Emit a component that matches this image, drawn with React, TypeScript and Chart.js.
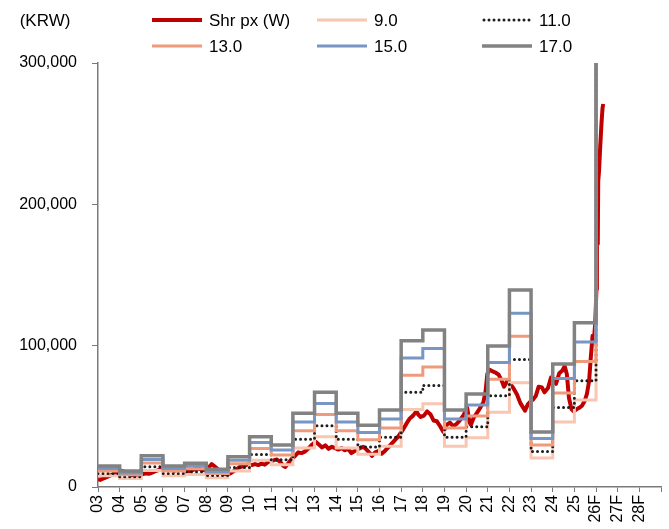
import React, { useEffect, useRef } from 'react';
import { Chart, registerables } from 'chart.js';

Chart.register(...registerables);

const unitLabel = '(KRW)';
const yearLabels = ['03', '04', '05', '06', '07', '08', '09', '10', '11', '12', '13', '14', '15', '16', '17', '18', '19', '20', '21', '22', '23', '24', '25', '26F', '27F', '28F', ''];
const seriesNames = ['Shr px (W)', '9.0', '11.0', '13.0', '15.0', '17.0'];
const perMultiples = [9, 11, 13, 15, 17];
const yTicks = [0, 100000, 200000, 300000];

// EPS per fiscal year (band = EPS x PER multiple)
const bandYears = [2003, 2004, 2005, 2006, 2007, 2008, 2009, 2010, 2011, 2012, 2013, 2014, 2015, 2016, 2017, 2018, 2019, 2020, 2021, 2022, 2023, 2024, 2025, 2026];
const eps = [876, 665, 1300, 876, 988, 735, 1259, 2094, 1747, 3065, 3941, 3065, 2565, 3206, 6088, 6535, 3206, 3871, 5871, 8200, 2288, 5118, 6835, 36000];
const bandEnd = 2027;

// Share price (decimal year, KRW)
const priceDates = [
  2003.00, 2003.10, 2003.25, 2003.40, 2003.55, 2003.70, 2003.85, 2003.95,
  2004.05, 2004.20, 2004.30, 2004.45, 2004.60, 2004.75, 2004.90,
  2005.05, 2005.20, 2005.35, 2005.50, 2005.65, 2005.80, 2005.95,
  2006.10, 2006.25, 2006.40, 2006.55, 2006.70, 2006.85,
  2007.00, 2007.15, 2007.30, 2007.45, 2007.60, 2007.75, 2007.90,
  2008.05, 2008.15, 2008.25, 2008.35, 2008.50, 2008.65, 2008.80, 2008.92,
  2009.05, 2009.20, 2009.35, 2009.50, 2009.65, 2009.80, 2009.95,
  2010.10, 2010.25, 2010.40, 2010.55, 2010.70, 2010.85, 2010.97,
  2011.10, 2011.25, 2011.40, 2011.55, 2011.65, 2011.80, 2011.95,
  2012.10, 2012.25, 2012.40, 2012.55, 2012.70, 2012.85, 2012.97,
  2013.05, 2013.20, 2013.35, 2013.50, 2013.65, 2013.80, 2013.95,
  2014.10, 2014.25, 2014.40, 2014.55, 2014.70, 2014.85, 2014.97,
  2015.10, 2015.25, 2015.40, 2015.55, 2015.65, 2015.80, 2015.95,
  2016.10, 2016.25, 2016.40, 2016.55, 2016.70, 2016.85, 2016.97,
  2017.10, 2017.25, 2017.40, 2017.55, 2017.70, 2017.80, 2017.90,
  2018.05, 2018.20, 2018.35, 2018.50, 2018.65, 2018.80, 2018.95,
  2019.10, 2019.25, 2019.40, 2019.55, 2019.70, 2019.85, 2019.95,
  2020.05, 2020.15, 2020.22, 2020.35, 2020.50, 2020.65, 2020.80, 2020.90, 2020.98,
  2021.08, 2021.20, 2021.35, 2021.50, 2021.62, 2021.75, 2021.90,
  2022.05, 2022.20, 2022.35, 2022.50, 2022.62, 2022.72, 2022.85, 2022.97,
  2023.10, 2023.22, 2023.35, 2023.50, 2023.62, 2023.78, 2023.92,
  2024.05, 2024.15, 2024.30, 2024.45, 2024.55, 2024.65, 2024.75, 2024.87, 2024.97,
  2025.10, 2025.22, 2025.35, 2025.48, 2025.58, 2025.68, 2025.76, 2025.84, 2025.90, 2025.96,
  2026.02, 2026.04, 2026.06, 2026.08, 2026.10, 2026.14, 2026.19, 2026.25, 2026.30, 2026.33,
];
const priceValues = [
  5500, 5000, 6000, 7000, 8000, 9000, 9800, 10200,
  11500, 11000, 10000, 9000, 8200, 8600, 9200,
  9000, 9600, 9300, 10200, 11200, 12000, 12800,
  12500, 13000, 12000, 11500, 12500, 12800,
  12000, 11200, 11500, 12500, 13000, 12500, 11800,
  12500, 14500, 16200, 15000, 13000, 11000, 9500, 9000,
  9200, 10500, 12000, 13800, 14500, 15200, 16200,
  15500, 16200, 15500, 16500, 15800, 17500, 18500,
  18800, 19500, 18000, 15000, 14200, 17000, 20000,
  22000, 24500, 24000, 25000, 27000, 29500, 31000,
  32000, 30000, 28000, 29500, 27000, 28500, 27500,
  26500, 27500, 26000, 27000, 24000, 25500, 26500,
  27500, 28500, 26500, 24000, 22000, 24500, 25500,
  23500, 25500, 28000, 30500, 33000, 35500, 38000,
  41000, 45000, 48500, 50500, 53500, 51000, 49500,
  50500, 53500, 51500, 47000, 46500, 43000, 39000,
  44000, 45500, 43000, 44500, 47000, 50000, 53000,
  56000, 46000, 44000, 49000, 52500, 56000, 60000, 68000, 80000,
  83000, 82000, 81000, 79500, 76000, 71000, 75000,
  73000, 69500, 65500, 59500, 56500, 54000, 58500, 60500,
  62000, 64500, 71000, 70500, 67000, 70000, 77500,
  75500, 73000, 80500, 82500, 85500, 80000, 63000, 55000, 53500,
  55000, 56000, 57500, 61000, 66000, 75000, 92000, 107000, 104000, 115000,
  140000, 168000, 200000, 172000, 216000, 224000, 240000, 257000, 268000, 271000,
];

const FONT = '"Liberation Sans", Arial, Helvetica, sans-serif';

const lineStyles = [
  { color: '#C00000', width: 4, dash: [] as number[], cap: 'butt', order: 10 },
  { color: '#F8C6B1', width: 3, dash: [] as number[], cap: 'butt', order: 5 },
  { color: '#1E1E1E', width: 3, dash: [0, 5], cap: 'round', order: 4 },
  { color: '#F09A7C', width: 3, dash: [] as number[], cap: 'butt', order: 3 },
  { color: '#7896C4', width: 3, dash: [] as number[], cap: 'butt', order: 2 },
  { color: '#828282', width: 3.5, dash: [] as number[], cap: 'butt', order: 1 },
];

function bandPoints(mult: number) {
  const pts: { x: number; y: number }[] = [];
  bandYears.forEach((yr, i) => {
    const v = eps[i] * mult;
    const next = i + 1 < bandYears.length ? bandYears[i + 1] : bandEnd;
    pts.push({ x: yr, y: v });
    pts.push({ x: next, y: v });
  });
  return pts;
}

const legendPlugin = {
  id: 'customLegend',
  afterDraw(chart: any) {
    const ctx = chart.ctx;
    ctx.save();
    ctx.font = `17px ${FONT}`;
    ctx.fillStyle = '#000';
    ctx.textBaseline = 'middle';
    ctx.textAlign = 'center';
    ctx.fillText(unitLabel, 45, 21);
    const cols = [152, 317, 482];
    const rows = [20, 46];
    chart.data.datasets.forEach((ds: any, i: number) => {
      const x = cols[i % 3];
      const y = rows[Math.floor(i / 3)];
      ctx.beginPath();
      ctx.strokeStyle = ds.borderColor;
      ctx.lineWidth = ds.borderWidth;
      ctx.setLineDash(ds.borderDash || []);
      ctx.lineCap = ds.borderCapStyle || 'butt';
      ctx.moveTo(x + (ds.borderCapStyle === 'round' ? 2 : 0), y);
      ctx.lineTo(x + 50, y);
      ctx.stroke();
      ctx.setLineDash([]);
      ctx.textAlign = 'left';
      ctx.fillStyle = '#000';
      ctx.fillText(ds.label, x + 57, y + 1);
    });
    ctx.restore();
  },
};

export default function App() {
  const canvasRef = useRef<HTMLCanvasElement | null>(null);

  useEffect(() => {
    if (!canvasRef.current) return;
    Chart.defaults.font.family = FONT;
    Chart.defaults.font.size = 16;
    Chart.defaults.color = '#000';

    const datasets: any[] = [];
    datasets.push({
      label: seriesNames[0],
      data: priceDates.map((d, i) => ({ x: d, y: priceValues[i] })),
      borderColor: lineStyles[0].color,
      borderWidth: lineStyles[0].width,
      borderJoinStyle: 'round',
      borderDash: lineStyles[0].dash,
      borderCapStyle: lineStyles[0].cap,
      order: lineStyles[0].order,
      pointRadius: 0,
      fill: false,
    });
    perMultiples.forEach((m, k) => {
      const st = lineStyles[k + 1];
      datasets.push({
        label: seriesNames[k + 1],
        data: bandPoints(m),
        borderColor: st.color,
        borderWidth: st.width,
        borderDash: st.dash,
        borderCapStyle: st.cap,
        borderJoinStyle: 'miter',
        order: st.order,
        pointRadius: 0,
        fill: false,
      });
    });

    const chart = new Chart(canvasRef.current, {
      type: 'line',
      data: { datasets },
      plugins: [legendPlugin],
      options: {
        animation: false,
        responsive: false,
        devicePixelRatio: 1,
        layout: { padding: { top: 63, right: 8, left: 0, bottom: 0 }, autoPadding: false },
        plugins: { legend: { display: false }, tooltip: { enabled: false } },
        elements: { point: { radius: 0 }, line: { tension: 0 } },
        scales: {
          x: {
            type: 'linear',
            min: 2003,
            max: 2029,
            afterFit(s: any) { s.height = 42; s.paddingLeft = 0; s.paddingRight = 0; },
            ticks: {
              stepSize: 1,
              autoSkip: false,
              minRotation: 90,
              maxRotation: 90,
              padding: 3,
              color: '#000',
              font: { size: 16 },
              callback: (v: any) => yearLabels[Math.round(Number(v) - 2003)] ?? '',
            },
            grid: { display: true, drawOnChartArea: false, drawTicks: true, tickLength: 5, color: '#7a7a7a', lineWidth: 1 },
            border: { display: true, color: '#7a7a7a', width: 1.5 },
          },
          y: {
            type: 'linear',
            min: 0,
            max: 300000,
            afterFit(s: any) { s.width = 98; s.paddingTop = 0; s.paddingBottom = 0; },
            afterBuildTicks(s: any) { s.ticks = yTicks.map((v) => ({ value: v })); },
            ticks: {
              padding: 15,
              color: '#000',
              font: { size: 16 },
              callback: (v: any) => Number(v).toLocaleString('en-US'),
            },
            grid: { display: true, drawOnChartArea: false, drawTicks: true, tickLength: 6, color: '#7a7a7a', lineWidth: 1 },
            border: { display: true, color: '#7a7a7a', width: 1.5 },
          },
        },
      } as any,
    });
    return () => chart.destroy();
  }, []);

  return (
    <div style={{ position: 'absolute', left: 0, top: 0, width: 669, height: 529, background: '#fff' }}>
      <canvas ref={canvasRef} width={669} height={529} style={{ display: 'block' }} />
    </div>
  );
}
